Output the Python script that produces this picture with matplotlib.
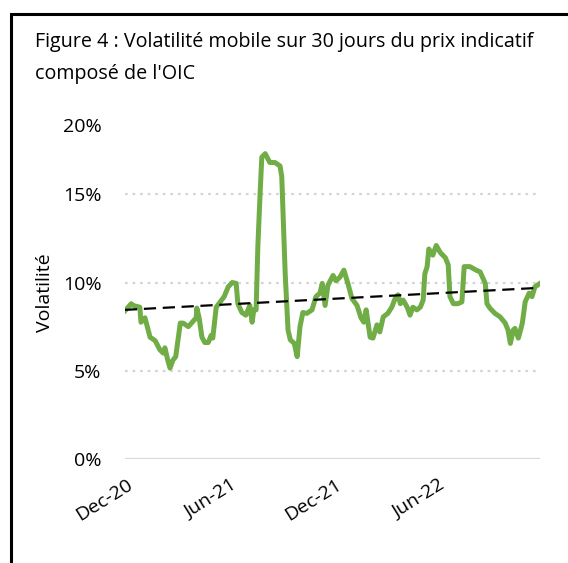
import numpy as np
import pandas as pd
import matplotlib
matplotlib.use("Agg")
import matplotlib.pyplot as plt

plt.rcParams['font.family'] = ['Open Sans', 'DejaVu Sans']

title_1 = "Figure 4 : Volatilité mobile sur 30 jours du prix indicatif"
title_2 = "composé de l'OIC"

# days since 28 Nov 2020, 30-day rolling volatility in %
start = pd.Timestamp("2020-11-28")
day_offset = [0, 11, 14, 26, 28, 35, 44, 53, 61, 67, 70, 75, 79, 84, 89, 97, 102,
              111, 118, 125, 126, 130, 135, 140, 146, 151, 154, 160, 167, 174, 181,
              188, 195, 198, 205, 212, 219, 223, 226, 230, 233, 237, 240, 246, 254,
              263, 272, 275, 281, 286, 290, 297, 302, 307, 312, 319, 328, 335, 342,
              346, 351, 356, 365, 370, 377, 384, 391, 398, 407, 414, 419, 423, 430,
              435, 442, 447, 453, 461, 468, 474, 479, 483, 488, 495, 500, 505, 512,
              518, 523, 526, 530, 533, 540, 546, 553, 562, 567, 570, 576, 584, 591,
              595, 605, 616, 623, 632, 635, 640, 649, 658, 667, 672, 676, 681, 684,
              690, 693, 697, 702, 709, 714, 719, 728]
volatility = [8.4, 8.8, 8.7, 8.6, 7.75, 8.0, 6.9, 6.7, 6.2, 6.0, 6.3, 5.6, 5.15, 5.6,
              5.8, 7.7, 7.7, 7.5, 7.75, 8.0, 8.55, 8.0, 6.9, 6.6, 6.6, 7.0, 6.85, 8.6,
              8.9, 9.2, 9.75, 10.0, 9.95, 8.8, 8.3, 8.15, 8.7, 7.75, 8.45, 8.45, 12.0,
              15.05, 17.1, 17.3, 16.8, 16.8, 16.6, 16.0, 10.5, 7.3, 6.75, 6.55, 5.8,
              7.5, 8.3, 8.25, 8.45, 9.2, 9.4, 9.95, 8.7, 9.85, 10.4, 10.1, 10.3, 10.7,
              9.95, 9.1, 8.7, 8.0, 7.75, 8.45, 6.9, 6.85, 7.6, 7.2, 8.05, 8.25, 8.6,
              9.1, 9.3, 8.8, 9.0, 8.6, 8.15, 8.6, 8.45, 8.6, 9.0, 10.5, 10.9, 11.9,
              11.55, 12.1, 11.7, 11.4, 11.0, 9.2, 8.8, 8.8, 8.9, 10.9, 10.9, 10.7,
              10.6, 9.95, 8.8, 8.55, 8.25, 8.05, 7.7, 7.3, 6.55, 7.3, 7.4, 6.85, 7.2,
              7.7, 8.9, 9.4, 9.2, 9.75, 9.95]
trend_ends = [8.45, 9.7]

tick_dates = ["2020-12-01", "2021-06-01", "2021-12-01", "2022-06-01"]
tick_labels = ["Dec-20", "Jun-21", "Dec-21", "Jun-22"]
y_ticks = [0, 5, 10, 15, 18.9]
y_labels = ["0%", "5%", "10%", "15%", "20%"]

dates = start + pd.to_timedelta(day_offset, unit="D")

fig = plt.figure(figsize=(5.68, 5.63), dpi=100)
ax = fig.add_axes([125 / 568, 1 - 459 / 563, 415 / 568, 353 / 563])

for g in [5, 10, 15]:
    ax.axhline(g, color="#d4d4d4", lw=1.6, linestyle=(0, (1.2, 2.2)), zorder=1)
ax.axhline(0, color="#d9d9d9", lw=1.6, zorder=1)

ax.plot(dates, volatility, color="#70ad47", lw=3.6, solid_joinstyle="round", zorder=3)
ax.plot([dates[0], dates[-1]], trend_ends, color="black", lw=1.6,
        linestyle=(0, (5.5, 3)), zorder=4)

ax.set_xlim(dates[0], dates[-1])
ax.set_ylim(0, 20)
ax.set_yticks(y_ticks)
ax.set_yticklabels(y_labels)
ax.set_xticks(pd.to_datetime(tick_dates))
ax.set_xticklabels(tick_labels, rotation=32, ha="right", va="top", rotation_mode="anchor")
ax.tick_params(axis="y", length=0, pad=17, labelsize=14)
ax.tick_params(axis="x", length=0, pad=12, labelsize=14)
for s in ax.spines.values():
    s.set_visible(False)

ax.set_ylabel("Volatilité", fontsize=14)
ax.yaxis.set_label_coords(-0.172, 0.47)

fig.text(35 / 568, 1 - 47 / 563, title_1, fontsize=14.2, va="baseline")
fig.text(35 / 568, 1 - 79 / 563, title_2, fontsize=14.2, va="baseline")

border = plt.Rectangle((10.5 / 568, -0.1), 1.2, 1.1 - 14.5 / 563, transform=fig.transFigure,
                       fill=False, lw=2.2, ec="black", clip_on=False)
fig.add_artist(border)

fig.savefig("out.png", dpi=100)
